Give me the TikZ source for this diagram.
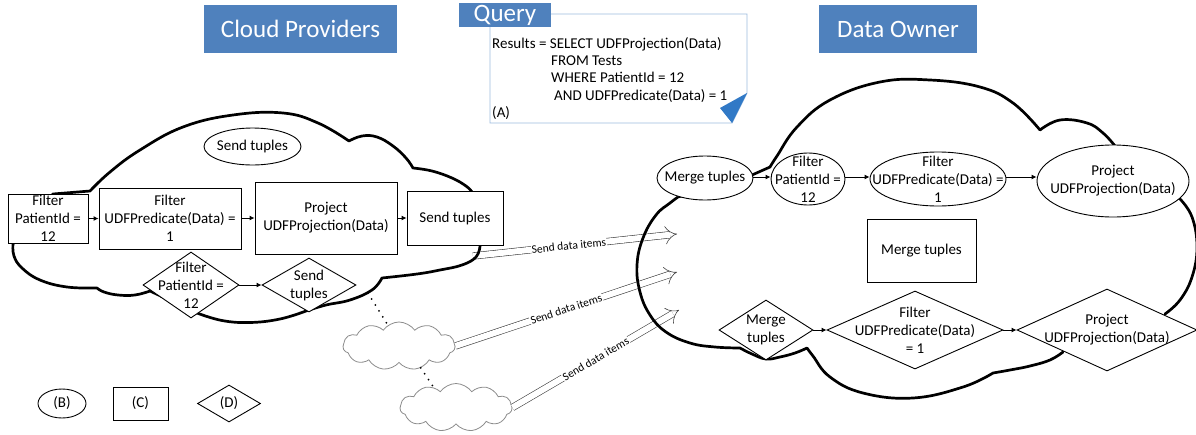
\documentclass[tikz,border=0pt]{standalone}
\usepackage{fontspec}
\setmainfont{Carlito}
\usetikzlibrary{shapes.geometric,shapes.symbols,arrows.meta}
\definecolor{hdr}{HTML}{4F81BD}
\definecolor{qline}{HTML}{9DBBDF}
\definecolor{qtri}{HTML}{3179C6}
\begin{document}
\begin{tikzpicture}[x=1pt,y=-1pt,
  txt/.style={font=\fontsize{15}{18}\selectfont, align=center, inner sep=0pt},
  qtxt/.style={font=\fontsize{15}{18}\selectfont, anchor=base west, inner sep=0pt},
  boxn/.style={draw, fill=white, line width=0.9pt, inner sep=0pt, rectangle},
  elln/.style={draw, fill=white, line width=0.9pt, inner sep=0pt, ellipse},
  dian/.style={draw, fill=white, line width=0.9pt, inner sep=0pt, diamond},
  cloudln/.style={line width=2.7pt, line join=round, line cap=round},
  flow/.style={-{Latex[length=5pt,width=5pt]}, line width=0.9pt},
  hollow/.style={draw=black!75, double=white, line width=0.6pt, double distance=6pt, -{Implies[scale=1.25]}},
  lbl/.style={font=\fontsize{11.5}{12}\selectfont, fill=white, inner sep=0.6pt, sloped},
  hdrbox/.style={fill=hdr, text=white, font=\fontsize{25}{30}\selectfont, inner sep=0pt},
  smallcloud/.style={cloud, draw=black!45, fill=white, line width=0.8pt, cloud puffs=11, cloud puff arc=110, aspect=2.3, inner sep=0pt, minimum width=112pt, minimum height=48pt},
  dots/.style={line width=2pt, line cap=round, dash pattern=on 0pt off 7pt}
]
\useasboundingbox (0,0) rectangle (1196,434);
\fill[white] (0,0) rectangle (1196,434);

% ---------- titles ----------
\node[hdrbox, minimum width=193pt, minimum height=48pt] (tcp) at (300.5,29) {Cloud Providers};
\node[hdrbox, minimum width=158pt, minimum height=48pt] (tdo) at (898,29) {Data Owner};

% ---------- query note ----------
\draw[qline, line width=0.9pt, fill=white] (490,14) -- (747,14) -- (747,93) -- (732,123) -- (490,123) -- cycle;
\fill[qtri] (720,108) -- (747,93) -- (732,123) -- cycle;
\node[hdrbox, minimum width=92pt, minimum height=24pt] (tq) at (505,15) {Query};
\node[qtxt] (q1) at (492,48) {Results = SELECT UDFProjection(Data)};
\node[qtxt] (q2) at (551,65) {FROM Tests};
\node[qtxt] (q3) at (551,82.5) {WHERE PatientId = 12};
\node[qtxt] (q4) at (554,100) {AND UDFPredicate(Data) = 1};
\node[qtxt] (q5) at (492,117) {(A)};

% ---------- small clouds ----------
\node[smallcloud] (sc1) at (399,346) {};
\node[smallcloud] (sc2) at (456,407.5) {};

% ---------- hollow arrows ----------
\coordinate (a1s) at (473,256);
\coordinate (a1e) at (677,234);
\coordinate (a2e) at (677,272);
\coordinate (a3e) at (679,310);
\draw[hollow] (a1s) -- (a1e) node[lbl, pos=0.47] (l1) {Send data items};
\draw[hollow] (sc1.east) -- (a2e) node[lbl, pos=0.5] (l2) {Send data items};
\draw[hollow] (sc2.east) -- (a3e) node[lbl, pos=0.5] (l3) {Send data items};

% ---------- dotted links ----------
\coordinate (dl1) at (368,293);
\draw[dots] (dl1) -- (sc1.118);
\draw[dots] (sc1.-45) -- (sc2.138);

% ---------- left cloud ----------
\draw[cloudln] (53,194) -- (90,191)
  -- plot[smooth,tension=0.7] coordinates {(90,191) (110,172) (140,150) (183,127) (233,115) (283,113) (318,123) (349,141)}
  -- plot[smooth,tension=0.7] coordinates {(349,141) (362,136) (377,137) (393,146) (406,158) (413,168)}
  -- plot[smooth,tension=0.7] coordinates {(413,168) (432,171) (452,178) (466,186) (472,192)}
  -- (480,246)
  -- plot[smooth,tension=0.7] coordinates {(480,246) (476,257) (462,265) (440,270) (417,274) (382,278)}
  -- plot[smooth,tension=0.7] coordinates {(382,278) (372,290) (350,300) (326,305) (306,311)}
  -- plot[smooth,tension=0.7] coordinates {(306,311) (280,319) (250,322.5) (222,320.5) (197,313)}
  -- (150,291)
  -- plot[smooth,tension=0.7] coordinates {(150,291) (135,295) (118,295) (104,292) (97,288)}
  -- plot[smooth,tension=0.7] coordinates {(97,288) (67,287) (40,280) (22,268) (14,256) (13,244)}
  -- cycle;

% ---------- right cloud ----------
\draw[cloudln] (1063,352)
  -- plot[smooth,tension=0.7] coordinates {(1063,352) (1050,360) (1030,366) (1010,370) (993,373)}
  -- plot[smooth,tension=0.7] coordinates {(993,373) (963,387) (913,398) (863,393) (830,377) (813,356) (807,348)}
  -- plot[smooth,tension=0.7] coordinates {(807,348) (795,353) (780,357) (766,359) (752,354) (740,348)}
  -- plot[smooth,tension=0.7] coordinates {(740,348) (715,347) (690,343) (666,332) (650,315) (640,292) (637,265) (643,238) (656,215) (670,203) (678,197)}
  -- (752,175) -- (770,167)
  -- plot[smooth,tension=0.7] coordinates {(770,167) (777,156) (797,127) (830,100) (880,82) (930,80) (980,87) (1013,103) (1040,130)}
  -- plot[smooth,tension=0.7] coordinates {(1040,130) (1060,120) (1087,123) (1103,133) (1115,146)}
  -- (1180,199)
  -- plot[smooth,tension=0.7] coordinates {(1180,199) (1192,217) (1197,247) (1192,277) (1180,300) (1165,314)};

% ---------- left nodes ----------
\node[boxn, minimum width=80pt, minimum height=49pt] (b1) at (48,218.5) {};
\node[txt] (b1t) at (b1) {Filter\\PatientId =\\12};
\node[boxn, minimum width=142pt, minimum height=61pt] (b2) at (170,218.5) {};
\node[txt] (b2t) at (b2) {Filter\\UDFPredicate(Data) =\\1};
\node[boxn, minimum width=142pt, minimum height=72pt] (b3) at (326,218) {};
\node[txt] (b3t) at (b3) {Project\\UDFProjection(Data)};
\node[boxn, minimum width=96pt, minimum height=54pt] (b4) at (455,218) {};
\node[txt] (b4t) at (b4) {Send tuples};
\node[elln, minimum width=97pt, minimum height=37pt] (e0) at (252.5,146.5) {};
\node[txt] (e0t) at (e0) {Send tuples};
\node[dian, minimum width=96pt, minimum height=66pt] (d1) at (191,285) {};
\node[txt] (d1t) at (d1) {Filter\\PatientId =\\12};
\node[dian, minimum width=94pt, minimum height=54pt] (d2) at (309,285) {};
\node[txt] (d2t) at (d2) {Send\\tuples};

\draw[flow] (b1.east) -- (b1.east -| b2.west);
\draw[flow] (b2.east |- b3.west) -- (b3.west);
\draw[flow] (b3.east) -- (b3.east -| b4.west);
\draw[flow] (d1.east) -- (d2.west);

% ---------- right nodes ----------
\node[elln, minimum width=96pt, minimum height=44pt] (r1) at (705,178) {};
\node[txt] (r1t) at (r1) {Merge tuples};
\node[elln, minimum width=74pt, minimum height=52pt] (r2) at (808,179) {};
\node[txt] (r2t) at (r2) {Filter\\PatientId =\\12};
\node[elln, minimum width=136pt, minimum height=54pt] (r3) at (938,179) {};
\node[txt] (r3t) at (r3) {Filter\\UDFPredicate(Data) =\\1};
\node[elln, minimum width=152pt, minimum height=72pt] (r4) at (1113,181) {};
\node[txt] (r4t) at (r4) {Project\\UDFProjection(Data)};
\node[boxn, minimum width=109pt, minimum height=63pt] (r5) at (921.5,250.5) {};
\node[txt] (r5t) at (r5) {Merge tuples};
\node[dian, minimum width=94pt, minimum height=60pt] (rd1) at (766,330) {};
\node[txt] (rd1t) at (rd1) {Merge\\tuples};
\node[dian, minimum width=176pt, minimum height=78pt] (rd2) at (915,330) {};
\node[txt] (rd2t) at (rd2) {Filter\\UDFPredicate(Data)\\= 1};
\node[dian, minimum width=180pt, minimum height=82pt] (rd3) at (1107,330) {};
\node[txt] (rd3t) at (rd3) {Project\\UDFProjection(Data)};

\draw[flow] (r1.east |- 0,177) -- (r2.west |- 0,177);
\draw[flow] (r2.east |- 0,177) -- (r3.west |- 0,177);
\draw[flow] (r3.east |- 0,177) -- (r4.west |- 0,177);
\draw[flow] (rd1.east) -- (rd2.west);
\draw[flow] (rd2.east) -- (rd3.west);

% ---------- legend ----------
\node[elln, minimum width=48pt, minimum height=29pt, font=\fontsize{15}{18}\selectfont] (lB) at (62,403.5) {(B)};
\node[boxn, minimum width=55pt, minimum height=33pt, font=\fontsize{15}{18}\selectfont] (lC) at (140.5,403.5) {(C)};
\node[dian, minimum width=63pt, minimum height=37pt, font=\fontsize{15}{18}\selectfont] (lD) at (229,403.5) {(D)};
\end{tikzpicture}
\end{document}
